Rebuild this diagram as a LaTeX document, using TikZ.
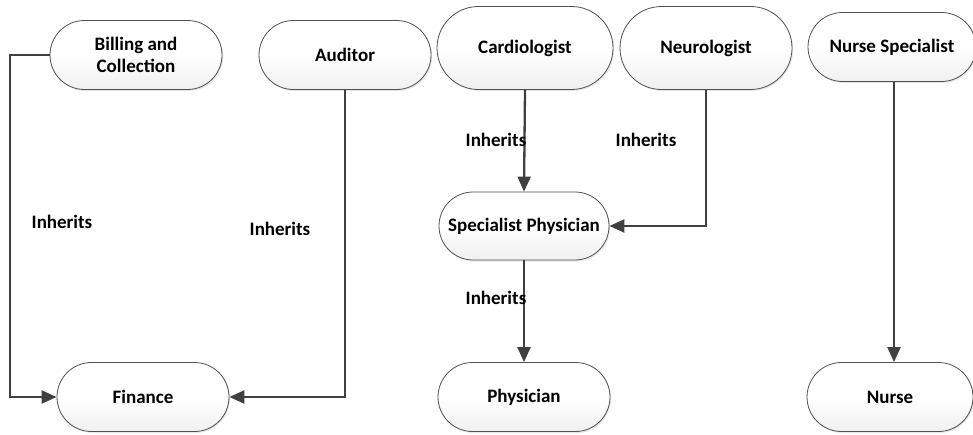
\documentclass[tikz,border=0pt]{standalone}
\usepackage{fontspec}
\setmainfont{Carlito}
\usetikzlibrary{arrows.meta,shapes.misc,shadows}
\definecolor{linegray}{HTML}{404040}
\definecolor{edgegray}{HTML}{505050}
\newcommand{\rolefont}{\fontsize{19}{22.5}\selectfont\bfseries}
\tikzset{
  role/.style={rounded rectangle, draw=edgegray, line width=0.8pt,
    top color=white, bottom color=black!6, middle color=white,
    drop shadow={shadow xshift=1.2pt, shadow yshift=-1.5pt, opacity=0.18},
    minimum width=172pt, minimum height=69pt, inner sep=0pt,
    align=center, font=\rolefont},
  link/.style={draw=linegray, line width=2.3pt,
    -{Triangle[length=15pt,width=13pt]}},
  tag/.style={font=\rolefont, inner sep=0pt}
}
\begin{document}
\begin{tikzpicture}[x=1pt,y=-1pt]
  \useasboundingbox (0,0) rectangle (973,434);
  % top row
  \node[role] (billing) at (136,55) {Billing and\\Collection};
  \node[role] (auditor) at (345,55) {Auditor};
  \node[role, minimum height=83pt, minimum width=176pt] (cardio) at (525,48) {Cardiologist};
  \node[role, minimum height=83pt] (neuro) at (706,48) {Neurologist};
  \node[role, minimum width=168pt] (nursespec) at (892,47) {Nurse Specialist};
  % middle
  \node[role, minimum width=170pt, minimum height=68pt] (specphys) at (524,226) {Specialist Physician};
  % bottom row
  \node[role] (finance) at (143,397) {Finance};
  \node[role] (physician) at (524,397) {Physician};
  \node[role, minimum width=166pt] (nurse) at (890,397) {Nurse};
  % inheritance connectors
  \coordinate (bcorner) at (10,55);
  \draw[link] (billing.west) -- (bcorner) |- (finance.west);
  \draw[link] (auditor.south) |- (finance.east);
  \draw[link] (cardio.south) -- (specphys.north);
  \draw[link] (neuro.south) |- (specphys.east);
  \draw[link] (specphys.south) -- (physician.north);
  \draw[link] ([xshift=2pt]nursespec.south) -- ([xshift=4pt]nurse.north);
  % labels
  \node[tag] (t1) at (62,222) {Inherits};
  \node[tag] (t2) at (280,229) {Inherits};
  \node[tag] (t3) at (496,140) {Inherits};
  \node[tag] (t4) at (646,140) {Inherits};
  \node[tag] (t5) at (496,298) {Inherits};
\end{tikzpicture}
\end{document}
